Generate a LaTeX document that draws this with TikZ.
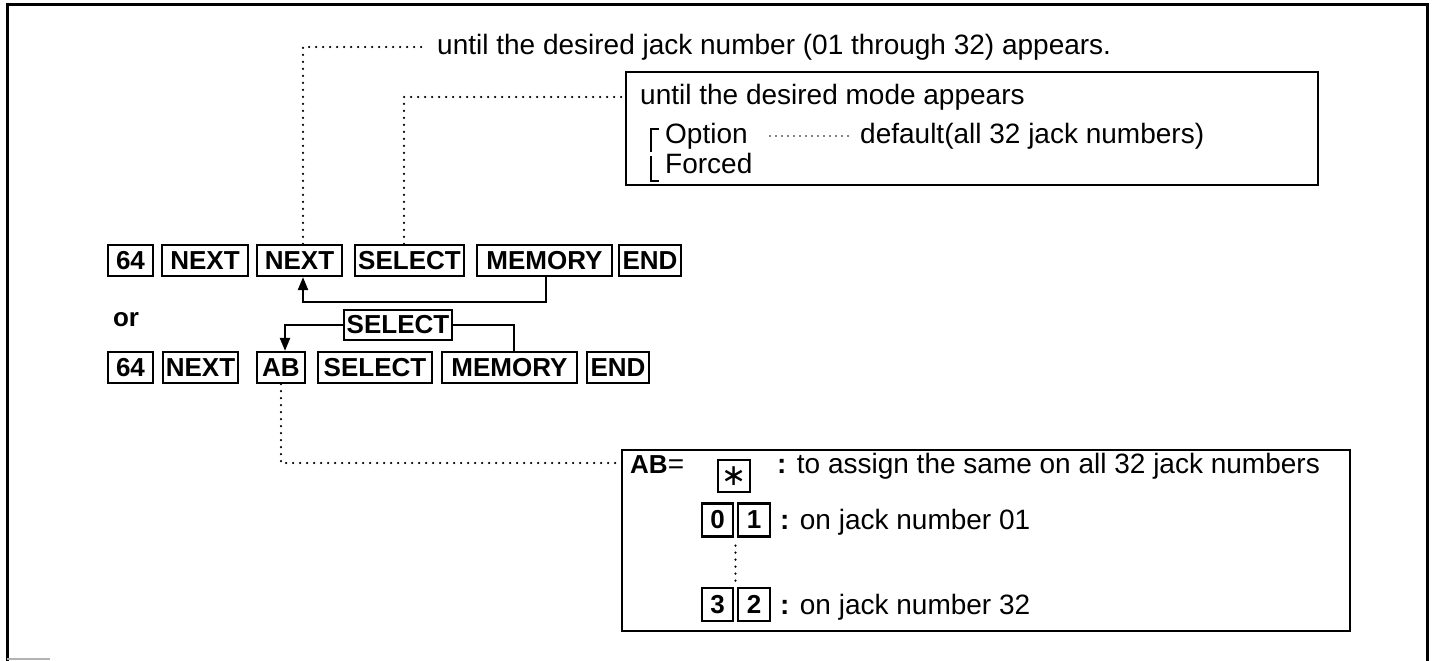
\documentclass[tikz,border=0pt]{standalone}
\usepackage{fontspec}
\setmainfont{Liberation Sans}
\newfontfamily\djv{DejaVu Sans}
\usetikzlibrary{arrows.meta,calc}
\begin{document}
\begin{tikzpicture}[x=1pt,y=-1pt,
  key/.style={draw,line width=2.2pt,inner sep=0pt,minimum height=31pt,font=\fontsize{26}{26}\selectfont\bfseries},
  txt/.style={inner sep=0pt,font=\fontsize{28}{30}\selectfont},
  conn/.style={line width=2.2pt},
  tip/.style={-{Triangle[length=13pt,width=10pt]}},
  dots/.style={line width=2.4pt,dash pattern=on 0pt off 7pt,line cap=round},
  box/.style={draw,line width=2.4pt,inner sep=0pt}]
\useasboundingbox (0,0) rectangle (1432,661);
% outer frame
\draw[line width=3pt] (7,661) -- (7,5) -- (1427,5) -- (1427,661);
\draw[gray!60,line width=2pt] (7,659) -- (50,659);
% row 1
\node[key,minimum width=45pt] (a1) at (130.5,260.5) {64};
\node[key,minimum width=86pt] (a2) at (205,260.5) {NEXT};
\node[key,minimum width=85pt] (a3) at (299.5,260.5) {NEXT};
\node[key,minimum width=109pt] (a4) at (409.5,260.5) {SELECT};
\node[key,minimum width=135pt] (a5) at (544.5,260.5) {MEMORY};
\node[key,minimum width=62pt] (a6) at (650,260.5) {END};
\draw[conn,tip] ([xshift=1.5pt]a5.south) -- ++(0,25) -| ([xshift=3.5pt]a3.south);
% or
\node[inner sep=0pt,font=\fontsize{26}{26}\selectfont\bfseries] (or) at (126,320) {or};
% floating select
\node[key,minimum width=108pt,minimum height=30pt] (sel) at (398,325) {SELECT};
% row 2
\node[key,minimum width=45pt] (b1) at (130.5,367.5) {64};
\node[key,minimum width=75pt] (b2) at (200.5,367.5) {NEXT};
\node[key,minimum width=48pt] (b3) at (281,367.5) {AB};
\node[key,minimum width=114pt] (b4) at (375,367.5) {SELECT};
\node[key,minimum width=135pt] (b5) at (509.5,367.5) {MEMORY};
\node[key,minimum width=62pt] (b6) at (618,367.5) {END};
\draw[conn] (sel.east) -| ([xshift=4.5pt]b5.north);
\draw[conn,tip] (sel.west) -| ([xshift=4pt]b3.north);
% top text
\node[txt,anchor=west] (t1) at (437,47) {until the desired jack number (01 through 32) appears.};
\draw[dots] ([xshift=3.5pt]a3.north) |- ([xshift=-12pt]t1.west);
% top box
\node[box,minimum width=692pt,minimum height=113pt] (tb) at (972,128.5) {};
\coordinate (m1) at (0,97);
\draw[dots] ([xshift=-5.5pt]a4.north) |- (tb.west |- m1);
\node[txt,anchor=base west] (l1) at (640,104) {until the desired mode appears};
\node[txt,anchor=base west] (l2) at (665,143) {Option};
\node[txt,anchor=base west] (l3) at (860,143) {default(all 32 jack numbers)};
\node[txt,anchor=base west] (l4) at (665,173) {Forced};
\draw[dots,line width=1.8pt,dash pattern=on 0pt off 6pt] ($(l2.base east)+(22,-7)$) -- ($(l3.base west)+(-9,-7)$);
\draw[line width=2.2pt] (659,129) -- (651,129) -- (651,152);
\draw[line width=2.2pt] (651,156) -- (651,181) -- (659,181);
% bottom box
\node[box,minimum width=728pt,minimum height=181pt] (bb) at (986,540.5) {};
\coordinate (m2) at (0,463);
\draw[dots] (b3.south) |- (bb.west |- m2);
\node[txt,anchor=base west] (ab) at (630,473) {{\fontsize{26}{26}\selectfont\bfseries AB}=};
\node[key,minimum width=32pt,minimum height=32pt,font=\djv\fontsize{30}{30}\selectfont] (ast) at (734,476) {∗};
\node[txt,anchor=base west] (s1) at (777,473) {\textbf{:} to assign the same on all 32 jack numbers};
\node[key,minimum width=31pt,minimum height=33pt] (d0) at (717.5,520) {0};
\node[key,minimum width=32pt,minimum height=33pt] (d1) at (754,520) {1};
\node[txt,anchor=base west] (s2) at (780,529) {\textbf{:} on jack number 01};
\node[key,minimum width=31pt,minimum height=33pt] (d3) at (717.5,604.5) {3};
\node[key,minimum width=32pt,minimum height=33pt] (d2) at (754,604.5) {2};
\node[txt,anchor=base west] (s3) at (780,614) {\textbf{:} on jack number 32};
\draw[dots] ($(d0.south east)!.5!(d1.south west)+(0,8)$) -- ($(d3.north east)!.5!(d2.north west)+(0,-6)$);
\end{tikzpicture}
\end{document}
